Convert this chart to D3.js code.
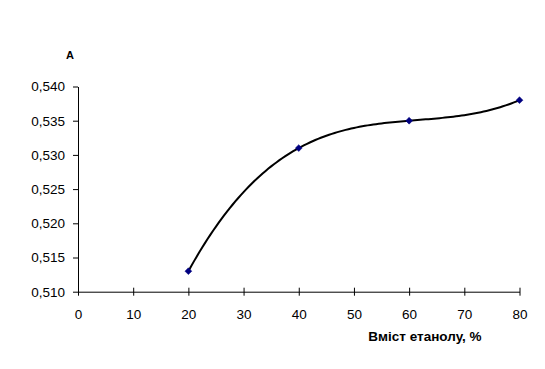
<!DOCTYPE html>
<html>
<head>
<meta charset="utf-8">
<script src="https://cdn.jsdelivr.net/npm/d3@7"></script>
<style>
  html, body { margin: 0; padding: 0; background: #fff; }
  svg { display: block; }
</style>
</head>
<body>
<svg id="chart" width="545" height="369"></svg>
<script>
const ethanol = [20, 40, 60, 80];
const absorbance = [0.513, 0.531, 0.535, 0.538];
const xTicks = [0, 10, 20, 30, 40, 50, 60, 70, 80];
const yTicks = [0.510, 0.515, 0.520, 0.525, 0.530, 0.535, 0.540];
const xTitle = "Вміст етанолу, %";
const yTitle = "A";

const svg = d3.select("#chart");
const x = d3.scaleLinear().domain([0, 80]).range([78, 519.5]);
const y = d3.scaleLinear().domain([0.510, 0.540]).range([291.7, 86.5]);
const fmt = v => d3.format(".3f")(v).replace(".", ",");
const font = "'Liberation Sans', Arial, sans-serif";

// Y axis
const yAxis = svg.append("g")
  .attr("transform", `translate(${x(0)},0)`)
  .call(d3.axisLeft(y).tickValues(yTicks).tickFormat(fmt).tickSize(5).tickSizeOuter(0).tickPadding(8));
// X axis
const xAxis = svg.append("g")
  .attr("transform", `translate(0,${y(0.510)})`)
  .call(d3.axisBottom(x).tickValues(xTicks).tickFormat(d3.format("d")).tickSize(4).tickSizeOuter(0).tickPadding(14));
xAxis.selectAll(".tick line").attr("y1", -4).attr("y2", 4);

[yAxis, xAxis].forEach(g => {
  g.select(".domain").attr("stroke", "#000").attr("stroke-width", 1);
  g.selectAll(".tick line").attr("stroke", "#000");
  g.selectAll(".tick text").attr("fill", "#000").attr("font-family", font).attr("font-size", 13.5);
});

// Polynomial trendline (order 3) through the data points, as in the original spreadsheet chart
const pts = ethanol.map((e, i) => [e, absorbance[i]]);
function poly(xv) {
  let s = 0;
  for (let i = 0; i < pts.length; i++) {
    let l = 1;
    for (let j = 0; j < pts.length; j++) if (j !== i) l *= (xv - pts[j][0]) / (pts[i][0] - pts[j][0]);
    s += l * pts[i][1];
  }
  return s;
}
const xs = d3.range(d3.min(ethanol), d3.max(ethanol) + 0.001, 0.5);
svg.append("path")
  .datum(xs)
  .attr("fill", "none")
  .attr("stroke", "#000")
  .attr("stroke-width", 2)
  .attr("d", d3.line().x(d => x(d)).y(d => y(poly(d))));

// Markers
svg.selectAll(".m").data(pts).join("path")
  .attr("class", "m")
  .attr("transform", d => `translate(${x(d[0])},${y(d[1])})`)
  .attr("d", d3.symbol(d3.symbolDiamond2, 30))
  .attr("fill", "#000080")
  .attr("stroke", "#000080")
  .attr("stroke-width", 0.5);

// Titles
svg.append("text")
  .attr("x", 70).attr("y", 58.5)
  .attr("text-anchor", "middle")
  .attr("font-family", font).attr("font-weight", "bold").attr("font-size", 11)
  .text(yTitle);
svg.append("text")
  .attr("x", 425).attr("y", 340.5)
  .attr("text-anchor", "middle")
  .attr("font-family", font).attr("font-weight", "bold").attr("font-size", 13.5)
  .text(xTitle);
</script>
</body>
</html>
